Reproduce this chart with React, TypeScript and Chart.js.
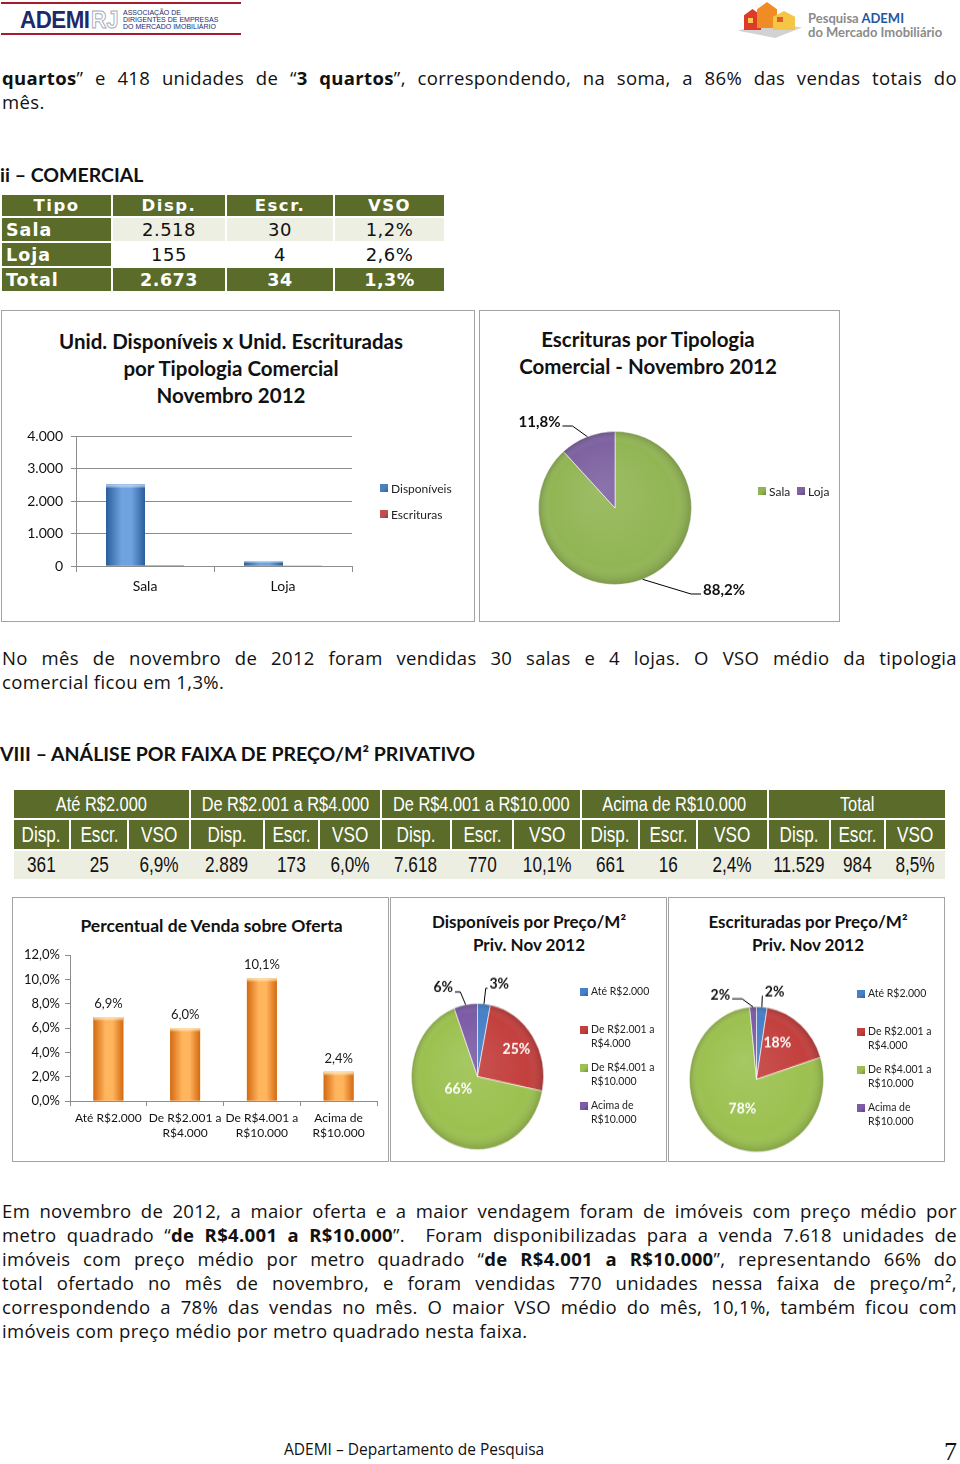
import React, { useEffect, useRef } from 'react';
import { Chart, registerables } from 'chart.js';

Chart.register(...registerables);

// ================= DATA =================
const comHeader = ['Tipo', 'Disp.', 'Escr.', 'VSO'];
const comTipos = ['Sala', 'Loja'];
const comDisp = [2518, 155];
const comEscr = [30, 4];
const comVso = [1.2, 2.6];
const comTotalLabel = 'Total';
const comTotDisp = 2673;
const comTotEscr = 34;
const comTotVso = 1.3;
const comSeries = ['Disponíveis', 'Escrituras'];
const comYTicks = [0, 1000, 2000, 3000, 4000];
const comPieLabels = ['88,2%', '11,8%'];

const faixas = ['Até R$2.000', 'De R$2.001 a R$4.000', 'De R$4.001 a R$10.000', 'Acima de R$10.000'];
const faixaAxisLabels = [['Até R$2.000'], ['De R$2.001 a', 'R$4.000'], ['De R$4.001 a', 'R$10.000'], ['Acima de', 'R$10.000']];
const faixaDisp = [361, 2889, 7618, 661];
const faixaEscr = [25, 173, 770, 16];
const faixaVso = [6.9, 6.0, 10.1, 2.4];
const totalTitle = 'Total';
const totDisp = 11529;
const totEscr = 984;
const totVso = 8.5;
const subHeaders = ['Disp.', 'Escr.', 'VSO'];
const vsoYTicks = [0, 2, 4, 6, 8, 10, 12];
const dispPieLabels = ['3%', '25%', '66%', '6%'];
const escrPieLabels = ['2%', '18%', '78%', '2%'];

// ================= HELPERS =================
const fmtInt = (n: number) => String(n).replace(/\B(?=(\d{3})+(?!\d))/g, '.');
const fmtPct = (v: number) => v.toFixed(1).replace('.', ',') + '%';

const BODY = "'Open Sans', sans-serif";
const CAL = 'Lato, sans-serif';
const GRID = '#8c8c8c';
const OLIVE = '#5a6b2a';

function bevel(palettes: string[][]) {
  return {
    id: 'bevel',
    afterDatasetsDraw(chart: any) {
      const ctx = chart.ctx;
      chart.data.datasets.forEach((_d: any, di: number) => {
        const pal = palettes[di];
        if (!pal) return;
        chart.getDatasetMeta(di).data.forEach((el: any) => {
          const p = el.getProps(['x', 'y', 'base', 'width'], true);
          const top = Math.min(p.y, p.base);
          const h = Math.abs(p.base - p.y);
          if (h < 0.5) return;
          const l = p.x - p.width / 2;
          ctx.save();
          const g = ctx.createLinearGradient(l, 0, l + p.width, 0);
          g.addColorStop(0, pal[0]);
          g.addColorStop(0.4, pal[1]);
          g.addColorStop(0.65, pal[1]);
          g.addColorStop(1, pal[0]);
          ctx.fillStyle = g;
          ctx.fillRect(l, top, p.width, h);
          const bh = Math.min(4, h / 2);
          const g2 = ctx.createLinearGradient(0, top, 0, top + bh);
          g2.addColorStop(0, pal[2]);
          g2.addColorStop(1, 'rgba(255,255,255,0)');
          ctx.fillStyle = g2;
          ctx.fillRect(l, top, p.width, bh);
          ctx.restore();
        });
      });
    },
  };
}

function barValues(fmt: (v: number) => string, font: string, gap: number) {
  return {
    id: 'barValues',
    afterDatasetsDraw(chart: any) {
      const ctx = chart.ctx;
      const ds = chart.data.datasets[0];
      chart.getDatasetMeta(0).data.forEach((el: any, i: number) => {
        ctx.save();
        ctx.font = font;
        ctx.fillStyle = '#1a1a1a';
        ctx.textAlign = 'center';
        ctx.textBaseline = 'middle';
        ctx.fillText(fmt(ds.data[i]), el.x, el.y - gap);
        ctx.restore();
      });
    },
  };
}

function pieShade() {
  return {
    id: 'pieShade',
    afterDatasetsDraw(chart: any) {
      const arc = chart.getDatasetMeta(0).data[0];
      if (!arc) return;
      const p = arc.getProps(['x', 'y', 'outerRadius'], true);
      const ctx = chart.ctx;
      ctx.save();
      const g = ctx.createRadialGradient(p.x - p.outerRadius * 0.2, p.y - p.outerRadius * 0.25, p.outerRadius * 0.05, p.x, p.y, p.outerRadius);
      g.addColorStop(0, 'rgba(255,255,255,0.10)');
      g.addColorStop(0.8, 'rgba(255,255,255,0)');
      g.addColorStop(1, 'rgba(0,0,0,0.16)');
      ctx.fillStyle = g;
      ctx.beginPath();
      ctx.arc(p.x, p.y, p.outerRadius, 0, Math.PI * 2);
      ctx.fill();
      ctx.restore();
    },
  };
}

type PieItem = { pos: [number, number]; color: string; leader?: boolean };
function pieLabels(labels: string[], items: PieItem[], font: string) {
  return {
    id: 'pieLabels',
    afterDatasetsDraw(chart: any) {
      const ctx = chart.ctx;
      chart.getDatasetMeta(0).data.forEach((arc: any, i: number) => {
        const it = items[i];
        if (!it) return;
        const p = arc.getProps(['x', 'y', 'startAngle', 'endAngle', 'outerRadius'], true);
        const r = p.outerRadius;
        const tx = p.x + it.pos[0] * r;
        const ty = p.y + it.pos[1] * r;
        ctx.save();
        ctx.font = font;
        const w = ctx.measureText(labels[i]).width;
        if (it.leader) {
          const mid = (p.startAngle + p.endAngle) / 2;
          const ex = p.x + Math.cos(mid) * r;
          const ey = p.y + Math.sin(mid) * r;
          const s = ex > tx ? 1 : -1;
          const lx = tx + s * (w / 2 + 2);
          const ly = ty + 4;
          const ebx = lx + s * Math.min(10, Math.max(0, s * (ex - lx)) * 0.5);
          ctx.strokeStyle = '#000';
          ctx.lineWidth = 1;
          ctx.beginPath();
          ctx.moveTo(ex, ey);
          ctx.lineTo(ebx, ly);
          ctx.lineTo(lx, ly);
          ctx.stroke();
        }
        ctx.fillStyle = it.color;
        ctx.textAlign = 'center';
        ctx.textBaseline = 'middle';
        ctx.fillText(labels[i], tx, ty);
        ctx.restore();
      });
    },
  };
}

function ChartCanvas({ left, top, width, height, innerHeight, make }: any) {
  const ref = useRef<HTMLCanvasElement>(null);
  useEffect(() => {
    const c = new Chart(ref.current as HTMLCanvasElement, make());
    return () => c.destroy();
  }, []);
  return (
    <canvas
      ref={ref}
      width={width}
      height={innerHeight || height}
      style={{ position: 'absolute', left, top, width, height, display: 'block' }}
    />
  );
}

// ================= CHART CONFIGS =================
const makeComBar = () => ({
  type: 'bar',
  data: {
    labels: comTipos,
    datasets: [
      { label: comSeries[0], data: comDisp, backgroundColor: '#4a7fc0', categoryPercentage: 0.565, barPercentage: 1 },
      { label: comSeries[1], data: comEscr, backgroundColor: '#c0504d', categoryPercentage: 0.565, barPercentage: 1 },
    ],
  },
  options: {
    responsive: false,
    animation: false,
    layout: { padding: { top: 16, right: 121, left: 0, bottom: 0 } },
    plugins: { legend: { display: false }, tooltip: { enabled: false } },
    scales: {
      x: {
        grid: { drawOnChartArea: false, tickLength: 6, color: GRID, offset: true },
        border: { color: GRID },
        ticks: { font: { family: 'Lato', size: 14 }, color: '#111', padding: 6, maxRotation: 0 },
        afterFit: (a: any) => { a.height = 44; },
      },
      y: {
        min: 0,
        max: 4000,
        afterBuildTicks: (a: any) => { a.ticks = comYTicks.map((v) => ({ value: v })); },
        ticks: { font: { family: 'Lato', size: 14 }, color: '#111', padding: 8, callback: (v: any) => fmtInt(Number(v)) },
        grid: { color: GRID, tickLength: 5 },
        border: { color: GRID },
        afterFit: (a: any) => { a.width = 74; },
      },
    },
  },
  plugins: [bevel([['#2b5d9c', '#6fa3e0', '#b5d0f2'], ['#9a2f2c', '#d9726e', '#f0b0ae']])],
});

const makeComPie = () => ({
  type: 'pie',
  data: {
    labels: comTipos,
    datasets: [{ data: comEscr, backgroundColor: ['#92b554', '#7e62a1'], borderColor: 'rgba(255,255,255,0.6)', borderWidth: 1 }],
  },
  options: {
    responsive: false,
    animation: false,
    layout: { padding: { left: 58, right: 146, top: 120, bottom: 35 } },
    plugins: { legend: { display: false }, tooltip: { enabled: false } },
  },
  plugins: [
    pieShade(),
    pieLabels(comPieLabels, [
      { pos: [1.425, 1.072], color: '#111', leader: true },
      { pos: [-0.987, -1.124], color: '#111', leader: true },
    ], 'bold 15px Lato'),
  ],
});

const makeVsoBar = () => ({
  type: 'bar',
  data: {
    labels: faixaAxisLabels,
    datasets: [{ label: 'VSO', data: faixaVso, backgroundColor: '#f59a38', categoryPercentage: 0.78, barPercentage: 0.5 }],
  },
  options: {
    responsive: false,
    animation: false,
    layout: { padding: { top: 15, right: 11, left: 0, bottom: 0 } },
    plugins: { legend: { display: false }, tooltip: { enabled: false } },
    scales: {
      x: {
        grid: { drawOnChartArea: false, tickLength: 5, color: GRID, offset: true },
        border: { color: GRID },
        ticks: { font: { family: 'Lato', size: 12, lineHeight: 1.25 }, color: '#111', padding: 5, maxRotation: 0, minRotation: 0, autoSkip: false },
        afterFit: (a: any) => { a.height = 54; },
      },
      y: {
        min: 0,
        max: 12,
        afterBuildTicks: (a: any) => { a.ticks = vsoYTicks.map((v) => ({ value: v })); },
        ticks: { font: { family: 'Lato', size: 13 }, color: '#111', padding: 5, callback: (v: any) => fmtPct(Number(v)) },
        grid: { drawOnChartArea: false, color: GRID, tickLength: 5 },
        border: { color: GRID },
        afterFit: (a: any) => { a.width = 57; },
      },
    },
  },
  plugins: [bevel([['#d46a10', '#ffb45e', '#ffe2a8']]), barValues(fmtPct, '13px Lato', 13)],
});

const PIE4 = ['#4680c8', '#c3403e', '#9cc150', '#7c5ca6'];

const makeDispPie = () => ({
  type: 'pie',
  data: {
    labels: faixas,
    datasets: [{ data: faixaDisp, backgroundColor: PIE4, borderColor: 'rgba(255,255,255,0.6)', borderWidth: 1 }],
  },
  options: {
    responsive: false,
    animation: false,
    layout: { padding: { left: 20, right: 121, top: 95, bottom: 9 } },
    plugins: { legend: { display: false }, tooltip: { enabled: false } },
  },
  plugins: [
    pieShade(),
    pieLabels(dispPieLabels, [
      { pos: [0.33, -1.27], color: '#111', leader: true },
      { pos: [0.59, -0.38], color: '#fff' },
      { pos: [-0.29, 0.16], color: '#fff' },
      { pos: [-0.52, -1.22], color: '#111', leader: true },
    ], 'bold 14px Lato'),
  ],
});

const makeEscrPie = () => ({
  type: 'pie',
  data: {
    labels: faixas,
    datasets: [{ data: faixaEscr, backgroundColor: PIE4, borderColor: 'rgba(255,255,255,0.6)', borderWidth: 1 }],
  },
  options: {
    responsive: false,
    animation: false,
    layout: { padding: { left: 20, right: 119, top: 100, bottom: 7 } },
    plugins: { legend: { display: false }, tooltip: { enabled: false } },
  },
  plugins: [
    pieShade(),
    pieLabels(escrPieLabels, [
      { pos: [0.27, -1.21], color: '#111', leader: true },
      { pos: [0.31, -0.51], color: '#fff' },
      { pos: [-0.21, 0.41], color: '#fff' },
      { pos: [-0.54, -1.17], color: '#111', leader: true },
    ], 'bold 14px Lato'),
  ],
});

// ================= HTML PIECES =================
const A = (left: number, top: number, extra: any = {}) => ({ position: 'absolute', left, top, ...extra } as any);

function Line({ top, children, last }: any) {
  return (
    <div
      style={A(2, top, {
        width: 955,
        height: 24,
        lineHeight: '24px',
        fontFamily: BODY,
        fontSize: 18.5,
        letterSpacing: 0.35,
        color: '#111',
        textAlign: 'justify',
        textAlignLast: last ? 'left' : 'justify',
      })}
    >
      {children}
    </div>
  );
}

function Box({ left, top, width, height }: any) {
  return <div style={A(left, top, { width, height, boxSizing: 'border-box', border: '1px solid #a3a3a3', background: '#fff' })} />;
}

function Title({ left, width, top, lh, size, lines }: any) {
  return (
    <div style={A(left, top, { width, textAlign: 'center', fontFamily: CAL, fontWeight: 700, fontSize: size, lineHeight: lh + 'px', color: '#111', whiteSpace: 'nowrap' })}>
      {lines.map((l: string, i: number) => (
        <div key={i}>{l}</div>
      ))}
    </div>
  );
}

function Sq({ x, y, color }: any) {
  return (
    <div
      style={A(x, y - 4, {
        width: 8,
        height: 8,
        background: `linear-gradient(135deg, ${color} 0%, ${color} 55%, rgba(0,0,0,0.25) 100%)`,
        backgroundColor: color,
      })}
    />
  );
}

function LegendEntry({ x, y, color, lines, size, lh }: any) {
  return (
    <>
      <Sq x={x} y={y} color={color} />
      <div style={A(x + 11, y - lh / 2, { fontFamily: CAL, fontSize: size, lineHeight: lh + 'px', color: '#222', whiteSpace: 'nowrap' })}>
        {lines.map((l: string, i: number) => (
          <div key={i}>{l}</div>
        ))}
      </div>
    </>
  );
}

function Narrow({ children, scale = 0.8 }: any) {
  return <span style={{ display: 'inline-block', transform: `scaleX(${scale})`, whiteSpace: 'nowrap' }}>{children}</span>;
}

function Cell({ x0, x1, y0, y1, bg, color, children, style }: any) {
  return (
    <div
      style={A(x0, y0, {
        width: x1 - x0,
        height: y1 - y0,
        background: bg,
        color,
        display: 'flex',
        alignItems: 'center',
        justifyContent: 'center',
        overflow: 'visible',
        ...style,
      })}
    >
      {children}
    </div>
  );
}

// table 1 geometry
const t1Cols = [[2, 111], [113, 225], [227, 333], [335, 444]];
const t1Rows = [[195, 216], [218, 241], [243, 266], [268, 291]];

// table 2 geometry
const t2Groups = [[14, 189], [191, 380], [382, 580], [582, 767], [769, 945]];
const t2Subs = [
  [14, 69], [71, 127], [129, 189],
  [191, 263], [265, 318], [320, 380],
  [382, 450], [452, 512], [514, 580],
  [582, 638], [640, 696], [698, 767],
  [769, 829], [831, 884], [886, 945],
];

export default function App() {
  const groupTitles = [...faixas, totalTitle];
  const dataRow: string[] = [];
  faixas.forEach((_f, i) => {
    dataRow.push(fmtInt(faixaDisp[i]), fmtInt(faixaEscr[i]), fmtPct(faixaVso[i]));
  });
  dataRow.push(fmtInt(totDisp), fmtInt(totEscr), fmtPct(totVso));

  const t1Body = [
    ...comTipos.map((t, i) => [t, fmtInt(comDisp[i]), fmtInt(comEscr[i]), fmtPct(comVso[i])]),
    [comTotalLabel, fmtInt(comTotDisp), fmtInt(comTotEscr), fmtPct(comTotVso)],
  ];

  const T1 = "'DejaVu Sans', sans-serif";
  const NAR = "'Liberation Sans', Arial, sans-serif";

  return (
    <div style={A(0, 0, { width: 960, height: 1464, overflow: 'hidden', background: '#fff' })}>
      {/* ===== header: left logo ===== */}
      <div style={A(1, 2, { width: 240, height: 2, background: '#a61c2c' })} />
      <div style={A(1, 33, { width: 240, height: 2, background: '#a61c2c' })} />
      <div style={A(20, 6, { fontFamily: NAR, fontWeight: 700, fontSize: 24, lineHeight: '28px', color: '#1d2a6a', letterSpacing: -0.5, transform: 'scaleX(0.93)', transformOrigin: 'left center' })}>ADEMI</div>
      <div style={A(91, 6, { fontFamily: NAR, fontWeight: 700, fontSize: 24, lineHeight: '28px', color: 'transparent', WebkitTextStroke: '1px #a4abbb', transform: 'scaleX(0.9)', transformOrigin: 'left center' })}>RJ</div>
      <div style={A(123, 9, { fontFamily: NAR, fontSize: 7, lineHeight: '7px', color: '#1d2a6a', whiteSpace: 'nowrap' })}>
        <div>ASSOCIAÇÃO DE</div>
        <div>DIRIGENTES DE EMPRESAS</div>
        <div>DO MERCADO IMOBILIÁRIO</div>
      </div>

      {/* ===== header: right logo ===== */}
      <div style={A(738, 22, { width: 64, height: 16, background: '#d2d2d2', clipPath: 'polygon(0 55%, 42% 0, 100% 35%, 58% 100%)' })} />
      <div style={A(744, 9, { width: 17, height: 21, background: '#dc3b2a', clipPath: 'polygon(0 30%, 50% 0, 100% 30%, 100% 100%, 0 100%)' })} />
      <div style={A(757, 2, { width: 20, height: 26, background: '#f08c26', clipPath: 'polygon(0 28%, 50% 0, 100% 28%, 100% 100%, 0 100%)' })} />
      <div style={A(773, 11, { width: 22, height: 19, background: '#f5c545', clipPath: 'polygon(0 30%, 50% 0, 100% 30%, 100% 100%, 0 100%)' })} />
      <div style={A(777, 17, { width: 6, height: 5, background: '#e25a2a' })} />
      <div style={A(748, 18, { width: 5, height: 5, background: '#f7c955' })} />
      <div style={A(808, 11, { fontFamily: CAL, fontWeight: 700, fontSize: 13, lineHeight: '14px', color: '#8b8b8b', whiteSpace: 'nowrap' })}>
        <div>
          Pesquisa <span style={{ color: '#2456a3' }}>ADEMI</span>
        </div>
        <div>do Mercado Imobiliário</div>
      </div>

      {/* ===== paragraph 1 ===== */}
      <Line top={66}>
        <b>quartos</b>” e 418 unidades de “<b>3 quartos</b>”, correspondendo, na soma, a 86% das vendas totais do
      </Line>
      <Line top={90} last>
        mês.
      </Line>

      {/* ===== heading ii ===== */}
      <div style={A(0, 163, { fontFamily: CAL, fontWeight: 700, fontSize: 19.5, lineHeight: '24px', color: '#111' })}>ii – COMERCIAL</div>

      {/* ===== table 1 ===== */}
      {comHeader.map((h, c) => (
        <Cell key={'h' + c} x0={t1Cols[c][0]} x1={t1Cols[c][1]} y0={t1Rows[0][0]} y1={t1Rows[0][1]} bg={OLIVE} color="#fff"
          style={{ fontFamily: T1, fontWeight: 700, fontSize: 16.5, letterSpacing: 1.5 }}>
          {h}
        </Cell>
      ))}
      {t1Body.map((row, r) =>
        row.map((v, c) => {
          const isTotal = r === t1Body.length - 1;
          const isLabel = c === 0;
          const olive = isTotal || isLabel;
          return (
            <Cell key={r + '-' + c} x0={t1Cols[c][0]} x1={t1Cols[c][1]} y0={t1Rows[r + 1][0]} y1={t1Rows[r + 1][1]}
              bg={olive ? OLIVE : r === 0 ? '#edefe3' : '#ffffff'} color={olive ? '#fff' : '#111'}
              style={{
                fontFamily: T1,
                fontWeight: olive ? 700 : 400,
                fontSize: olive ? 17.5 : 18,
                letterSpacing: isLabel ? 1 : 0.5,
                justifyContent: isLabel ? 'flex-start' : 'center',
                paddingLeft: isLabel ? 4 : 0,
                boxSizing: 'border-box',
              }}>
              {v}
            </Cell>
          );
        })
      )}

      {/* ===== commercial charts ===== */}
      <Box left={1} top={310} width={474} height={312} />
      <Box left={479} top={310} width={361} height={312} />
      <Title left={0} width={462} top={328} lh={27} size={20.5} lines={['Unid. Disponíveis x Unid. Escrituradas', 'por Tipologia Comercial', 'Novembro 2012']} />
      <ChartCanvas left={2} top={420} width={471} height={190} make={makeComBar} />
      <LegendEntry x={380} y={488} color="#4a7fc0" lines={[comSeries[0]]} size={12} lh={15} />
      <LegendEntry x={380} y={514} color="#c0504d" lines={[comSeries[1]]} size={12} lh={15} />

      <Title left={479} width={338} top={326} lh={27} size={20.5} lines={['Escrituras por Tipologia', 'Comercial - Novembro 2012']} />
      <ChartCanvas left={480} top={311} width={358} height={309} make={makeComPie} />
      <LegendEntry x={758} y={491} color="#92b554" lines={[comTipos[0]]} size={12} lh={15} />
      <LegendEntry x={797} y={491} color="#7e62a1" lines={[comTipos[1]]} size={12} lh={15} />

      {/* ===== paragraph 2 ===== */}
      <Line top={646}>No mês de novembro de 2012 foram vendidas 30 salas e 4 lojas. O VSO médio da tipologia</Line>
      <Line top={670} last>
        comercial ficou em 1,3%.
      </Line>

      {/* ===== heading VIII ===== */}
      <div style={A(0, 742, { fontFamily: CAL, fontWeight: 700, fontSize: 19.5, lineHeight: '24px', color: '#111', whiteSpace: 'nowrap' })}>
        VIII – ANÁLISE POR FAIXA DE PREÇO/M² PRIVATIVO
      </div>

      {/* ===== table 2 ===== */}
      {groupTitles.map((g, i) => (
        <Cell key={'g' + i} x0={t2Groups[i][0]} x1={t2Groups[i][1]} y0={790} y1={818} bg={OLIVE} color="#fff"
          style={{ fontFamily: NAR, fontSize: 21 }}>
          <Narrow scale={0.78}>{g}</Narrow>
        </Cell>
      ))}
      {t2Subs.map((s, i) => (
        <Cell key={'s' + i} x0={s[0]} x1={s[1]} y0={820} y1={849} bg={OLIVE} color="#fff" style={{ fontFamily: NAR, fontSize: 22 }}>
          <Narrow scale={0.78}>{subHeaders[i % 3]}</Narrow>
        </Cell>
      ))}
      <div style={A(14, 851, { width: 931, height: 28, background: '#eceee2' })} />
      {t2Subs.map((s, i) => (
        <Cell key={'d' + i} x0={s[0]} x1={s[1]} y0={851} y1={879} color="#111" style={{ fontFamily: NAR, fontSize: 22 }}>
          <Narrow scale={0.78}>{dataRow[i]}</Narrow>
        </Cell>
      ))}

      {/* ===== bottom charts ===== */}
      <Box left={12} top={897} width={377} height={265} />
      <Box left={390} top={897} width={277} height={265} />
      <Box left={668} top={897} width={277} height={265} />

      <Title left={11} width={401} top={914} lh={24} size={17.5} lines={['Percentual de Venda sobre Oferta']} />
      <ChartCanvas left={13} top={940} width={375} height={215} make={makeVsoBar} />

      <Title left={390} width={278} top={910} lh={23} size={17} lines={['Disponíveis por Preço/M²', 'Priv. Nov 2012']} />
      <ChartCanvas left={391} top={898} width={274} height={262} innerHeight={237} make={makeDispPie} />
      <LegendEntry x={580} y={992} color={PIE4[0]} lines={['Até R$2.000']} size={10.5} lh={13.5} />
      <LegendEntry x={580} y={1030} color={PIE4[1]} lines={['De R$2.001 a', 'R$4.000']} size={10.5} lh={13.5} />
      <LegendEntry x={580} y={1068} color={PIE4[2]} lines={['De R$4.001 a', 'R$10.000']} size={10.5} lh={13.5} />
      <LegendEntry x={580} y={1106} color={PIE4[3]} lines={['Acima de', 'R$10.000']} size={10.5} lh={13.5} />

      <Title left={668} width={280} top={910} lh={23} size={17} lines={['Escrituradas por Preço/M²', 'Priv. Nov 2012']} />
      <ChartCanvas left={669} top={898} width={274} height={262} innerHeight={242} make={makeEscrPie} />
      <LegendEntry x={857} y={994} color={PIE4[0]} lines={['Até R$2.000']} size={10.5} lh={13.5} />
      <LegendEntry x={857} y={1032} color={PIE4[1]} lines={['De R$2.001 a', 'R$4.000']} size={10.5} lh={13.5} />
      <LegendEntry x={857} y={1070} color={PIE4[2]} lines={['De R$4.001 a', 'R$10.000']} size={10.5} lh={13.5} />
      <LegendEntry x={857} y={1108} color={PIE4[3]} lines={['Acima de', 'R$10.000']} size={10.5} lh={13.5} />

      {/* ===== paragraph 3 ===== */}
      <Line top={1199}>Em novembro de 2012, a maior oferta e a maior vendagem foram de imóveis com preço médio por</Line>
      <Line top={1223}>
        metro quadrado “<b>de R$4.001 a R$10.000</b>”.&nbsp; Foram disponibilizadas para a venda 7.618 unidades de
      </Line>
      <Line top={1247}>
        imóveis com preço médio por metro quadrado “<b>de R$4.001 a R$10.000</b>”, representando 66% do
      </Line>
      <Line top={1271}>total ofertado no mês de novembro, e foram vendidas 770 unidades nessa faixa de preço/m²,</Line>
      <Line top={1295}>correspondendo a 78% das vendas no mês. O maior VSO médio do mês, 10,1%, também ficou com</Line>
      <Line top={1319} last>
        imóveis com preço médio por metro quadrado nesta faixa.
      </Line>

      {/* ===== footer ===== */}
      <div style={A(284, 1439, { fontFamily: BODY, fontSize: 15.5, lineHeight: '20px', color: '#111', whiteSpace: 'nowrap' })}>
        ADEMI – Departamento de Pesquisa
      </div>
      <div style={A(944, 1437, { fontFamily: "'Liberation Serif', serif", fontSize: 26, lineHeight: '30px', color: '#111' })}>7</div>
    </div>
  );
}
